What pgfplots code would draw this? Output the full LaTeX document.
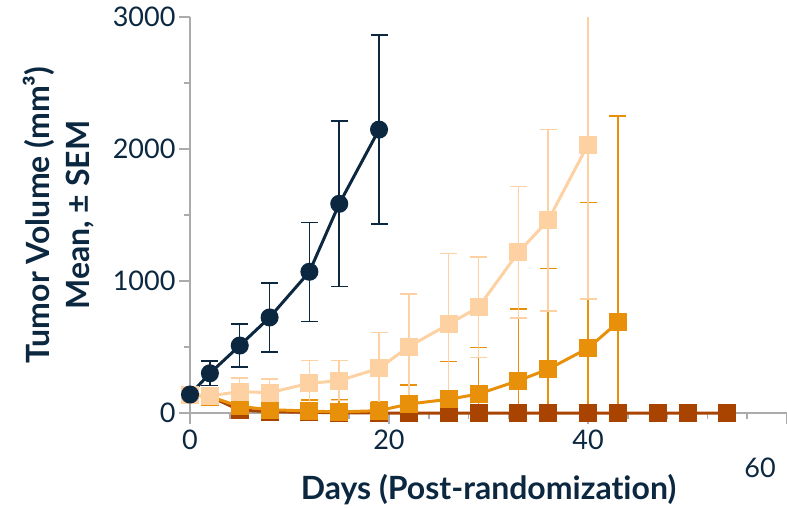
\documentclass[border=0pt]{standalone}
\usepackage{fontspec}
\setmainfont{Lato}[Ligatures=NoCommon]
\usepackage{pgfplots}
\pgfplotsset{compat=1.18}
\definecolor{navy}{HTML}{0C2840}
\definecolor{peach}{HTML}{FDD1A2}
\definecolor{orangec}{HTML}{E8900A}
\definecolor{brownc}{HTML}{A94400}
\definecolor{axisgray}{HTML}{ABABAB}
\begin{document}
\begin{tikzpicture}[x=1pt,y=1pt]
\path[use as bounding box] (-190,-94) rectangle (597,413);
\begin{axis}[
  at={(0pt,0pt)}, anchor=south west,
  scale only axis, width=597pt, height=396pt,
  xmin=0, xmax=60, ymin=0, ymax=3000,
  clip=false,
  axis lines=left,
  axis line style={-, color=axisgray, line width=1.6pt},
  xtick={0,20,40,60}, xticklabels={0,20,40,{}},
  minor x tick num=4,
  ytick={0,1000,2000,3000}, yticklabels={0,1000,2000,3000},
  minor y tick num=1,
  tick align=outside,
  major tick length=11pt, minor tick length=6pt,
  tick style={color=axisgray, line width=1.6pt},
  /pgf/number format/assume math mode=true,
  ticklabel style={font=\fontsize{27}{30}\selectfont, text=navy},
  xticklabel style={anchor=north, yshift=-2pt},
  xlabel={Days (Post-randomization)},
  xlabel style={at={(axis description cs:0.5,0)}, anchor=base, yshift=-86pt,
    font=\bfseries\fontsize{32}{36}\selectfont, text=navy},
  ylabel={Tumor Volume (mm³)\\Mean, ± SEM},
  ylabel style={at={(axis description cs:-0.2195,0.5)}, anchor=center, rotate=0,
    align=center, font=\bfseries\fontsize{32}{40}\selectfont, text=navy},
]
% brown series
\addplot[brownc, line width=3pt, mark=square*, mark size=7.5pt,
  mark options={draw=none, fill=brownc}] coordinates {
  (0,140) (2,125) (5,22) (8,10) (12,5) (15,2) (19,0) (22,0) (26,0) (29,0)
  (33,0) (36,0) (40,0) (43,0) (47,0) (50,0) (54,0)};
% orange series: downward part of error bars (to the axis)
\addplot[ycomb, orangec, line width=1.5pt, mark=none] coordinates {
  (19,18) (22,68) (26,104) (29,144) (33,245) (36,332) (40,491) (43,686)};
\addplot[orangec, line width=3pt, mark=square*, mark size=7.5pt,
  mark options={draw=none, fill=orangec},
  error bars/.cd, y dir=plus, y explicit,
  error bar style={line width=1.5pt, orangec},
  error mark options={rotate=90, mark size=8.5pt, line width=1.5pt, orangec}]
  coordinates {
  (0,140) +- (0,0)
  (2,125) +- (0,20)
  (5,50) +- (0,55)
  (8,25) +- (0,60)
  (12,15) +- (0,85)
  (15,8) +- (0,92)
  (19,18) +- (0,68)
  (22,68) +- (0,144)
  (26,104) +- (0,286)
  (29,144) +- (0,352)
  (33,245) +- (0,542)
  (36,332) +- (0,763)
  (40,491) +- (0,1105)
  (43,686) +- (0,1563)};
% peach series
\addplot[peach, line width=1.5pt, mark=none] coordinates {(40,2034) (40,3000)};
\addplot[peach, line width=3pt, mark=square*, mark size=7.5pt,
  mark options={draw=none, fill=peach},
  error bars/.cd, y dir=both, y explicit,
  error bar style={line width=1.5pt, peach},
  error mark options={rotate=90, mark size=8.5pt, line width=1.5pt, peach}]
  coordinates {
  (0,140) +- (0,0)
  (2,130) +- (0,25)
  (5,162) +- (0,103)
  (8,154) +- (0,102)
  (12,225) +- (0,172)
  (15,245) +- (0,152)
  (19,339) +- (0,270)
  (22,503) +- (0,400)
  (26,673) +- (0,534)
  (29,802) +- (0,380)
  (33,1217) +- (0,499)
  (36,1460) +- (0,688)
  (40,2034) += (0,0) -= (0,1170)};
% navy series
\addplot[navy, line width=3pt, mark=*, mark size=7.5pt,
  mark options={draw=none, fill=navy},
  error bars/.cd, y dir=both, y explicit,
  error bar style={line width=1.5pt, navy},
  error mark options={rotate=90, mark size=8.5pt, line width=1.5pt, navy}]
  coordinates {
  (0,140) +- (0,0)
  (2,301) +- (0,92)
  (5,511) +- (0,164)
  (8,724) +- (0,262)
  (12,1070) +- (0,375)
  (15,1585) +- (0,626)
  (19,2147) +- (0,715)};
\end{axis}
\node[font=\fontsize{27}{30}\selectfont, text=navy] at (570,-55) {60};
\end{tikzpicture}
\end{document}
